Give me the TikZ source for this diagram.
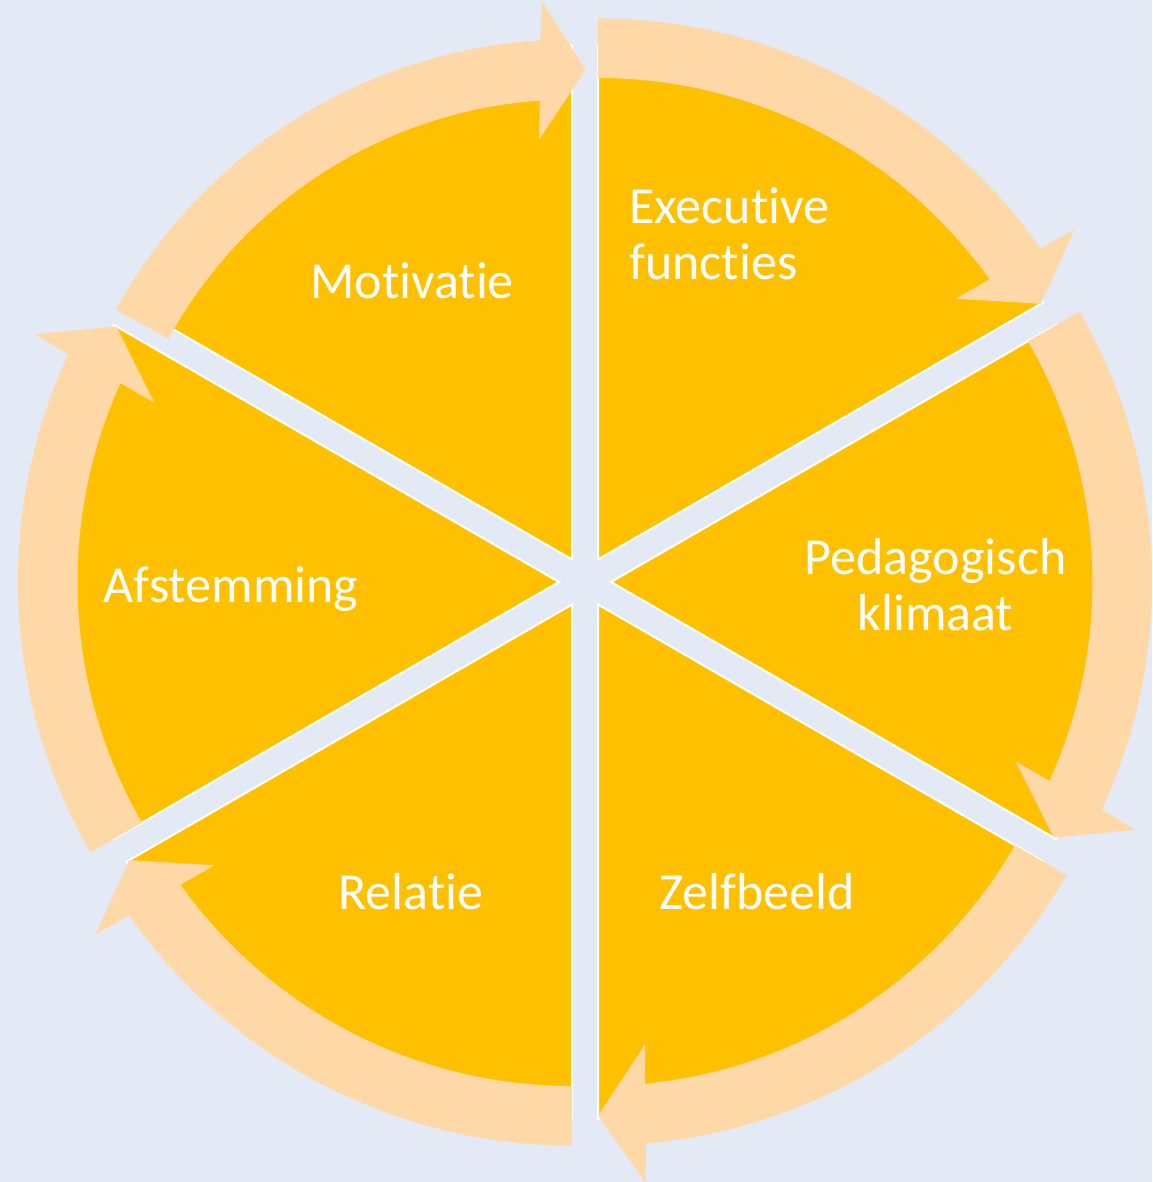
\documentclass[tikz,border=0pt]{standalone}
\usepackage{fontspec}
\setmainfont{Carlito}[Ligatures=NoCommon]
\definecolor{bgblue}{RGB}{227,233,245}
\definecolor{pieyellow}{RGB}{255,192,0}
\definecolor{ringpeach}{RGB}{254,217,167}
\newcommand{\ringarrow}[5]{%
  \fill[ring,shift={(#1)}] ({#2}:{#5}) arc[start angle={#2},end angle={#3+5.1},radius={#5}]
    -- ({#3+4.7}:{#5+39}) -- ({#3}:{(#4+#5)/2}) -- ({#3+6.1}:{#4-39}) -- ({#3+5.6}:{#4})
    arc[start angle={#3+5.6},end angle={#2},radius={#4}] -- cycle;}
\newcommand{\pieslice}[2]{%
  \filldraw[slice,shift={(#1)}] (0,0) -- ({#2}:514) arc[start angle={#2},end angle={#2+60},radius=514] -- cycle;}
\begin{document}
\begin{tikzpicture}[x=0.5pt,y=0.5pt,
    slice/.style={fill=pieyellow,draw=white,line width=1pt,line join=miter},
    ring/.style={fill=ringpeach},
    txt/.style={text=white,inner sep=0pt,font=\fontsize{26}{28}\selectfont}]
  \path[use as bounding box,fill=bgblue] (-585,-600) rectangle (567,582);
  \coordinate (cexec) at (60:26);
  \coordinate (cpeda) at (0:26);
  \coordinate (czelf) at (-60:26);
  \coordinate (crel) at (240:26);
  \coordinate (cafst) at (180:26);
  \coordinate (cmot) at (120:26);
  \pieslice{cexec}{30}
  \pieslice{cpeda}{-30}
  \pieslice{czelf}{-90}
  \pieslice{crel}{210}
  \pieslice{cafst}{150}
  \pieslice{cmot}{90}
  \ringarrow{cexec}{90}{30}{481.5}{541}
  \ringarrow{cpeda}{30}{-30}{481.5}{541}
  \ringarrow{czelf}{-30}{-90}{481.5}{541}
  \ringarrow{crel}{270}{210}{481.5}{541}
  \ringarrow{cafst}{210}{150}{481.5}{541}
  \ringarrow{cmot}{151.3}{88.4}{460}{520}
  \node[txt,anchor=base] (motivatie) at (-173,283) {Motivatie};
  \node[txt,anchor=base west,align=left] (executive) at (44,302) {Executive\\functies};
  \node[txt,anchor=base,align=center] (pedagogisch) at (350.5,-49) {Pedagogisch\\klimaat};
  \node[txt,anchor=base] (zelfbeeld) at (172,-327) {Zelfbeeld};
  \node[txt,anchor=base] (relatie) at (-174,-327) {Relatie};
  \node[txt,anchor=base] (afstemming) at (-354,-21) {Afstemming};
\end{tikzpicture}
\end{document}
